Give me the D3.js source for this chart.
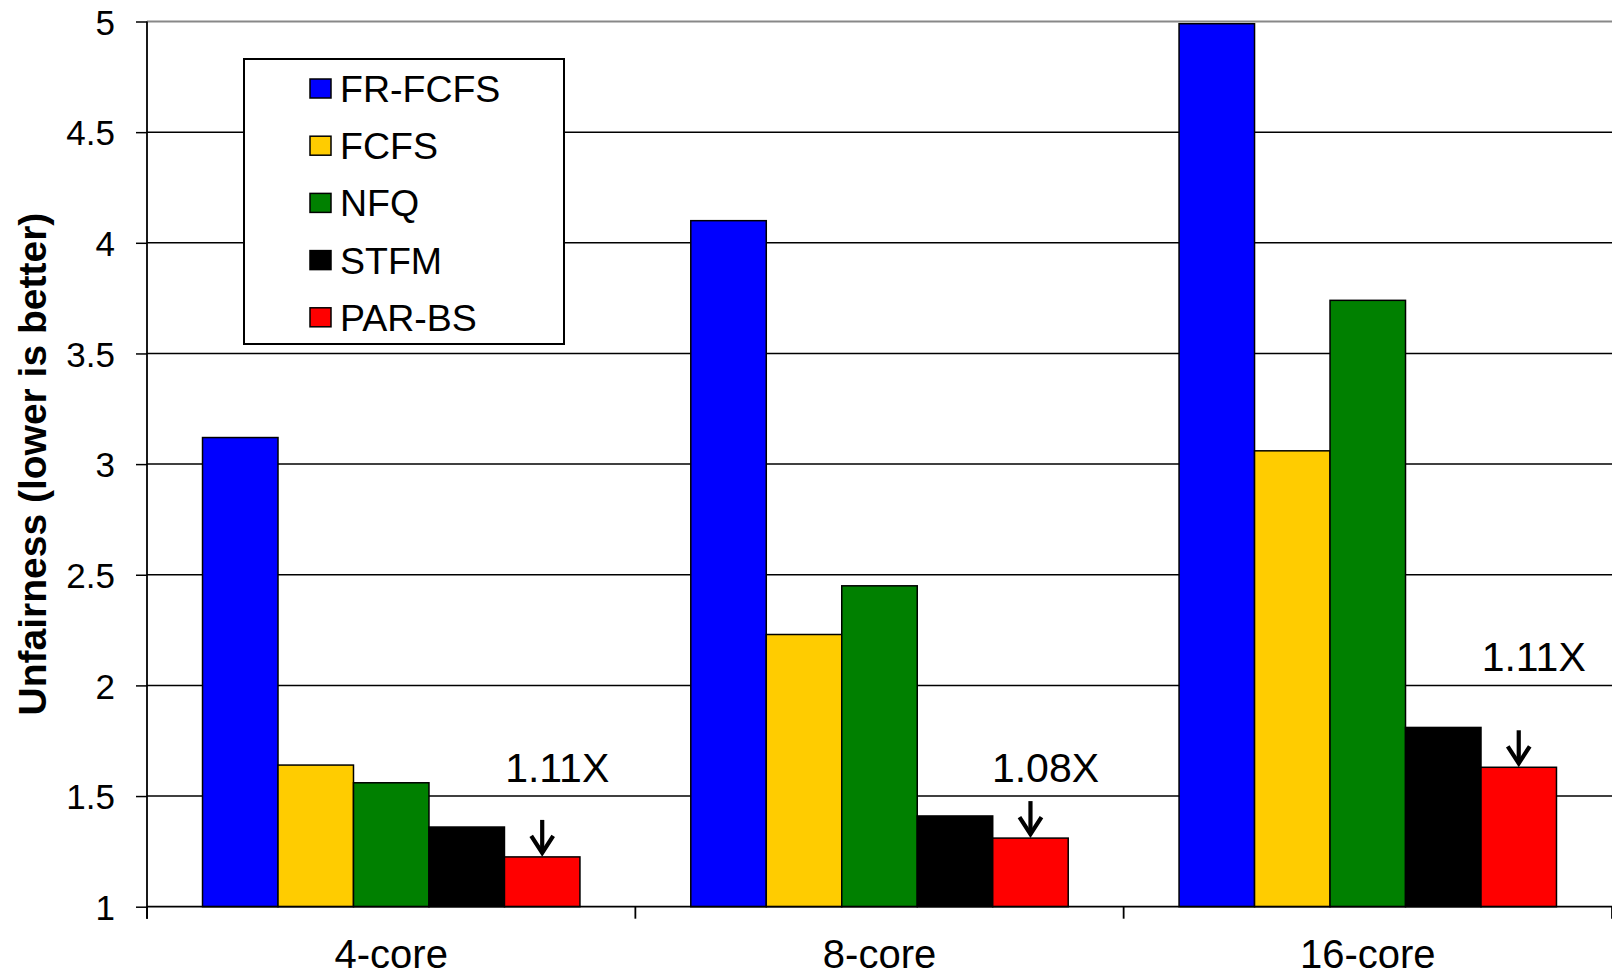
<!DOCTYPE html>
<html>
<head>
<meta charset="utf-8">
<script src="https://cdn.jsdelivr.net/npm/d3@7"></script>
<style>
  html, body { margin: 0; padding: 0; background: #fff; }
  svg { display: block; }
  text { font-family: "Liberation Sans", Arial, Helvetica, sans-serif; fill: #000; }
</style>
</head>
<body>
<svg id="chart" width="1612" height="977"></svg>
<script>
// Core counts on the x axis
const categories = ["4-core", "8-core", "16-core"];
// Memory schedulers compared
const series = ["FR-FCFS", "FCFS", "NFQ", "STFM", "PAR-BS"];

// Unfairness per scheduler, one value per core count
const frfcfs = [3.12, 4.10, 4.99];
const fcfs   = [1.64, 2.23, 3.06];
const nfq    = [1.56, 2.45, 3.74];
const stfm   = [1.36, 1.41, 1.81];
const parbs  = [1.225, 1.31, 1.63];

// Y axis tick values
const yTicks = [1, 1.5, 2, 2.5, 3, 3.5, 4, 4.5, 5];

const colors = ["#0000ff", "#ffcc00", "#008000", "#000000", "#ff0000"];
const valuesBySeries = [frfcfs, fcfs, nfq, stfm, parbs];

const rows = categories.map((c, i) => ({
  category: c,
  values: series.map((s, j) => ({ series: s, value: valuesBySeries[j][i], color: colors[j] }))
}));

const svg = d3.select("#chart");
const plotLeft = 147, plotRight = 1612, plotTop = 21.5, plotBottom = 906.7;

const y = d3.scaleLinear().domain([1, 5]).range([plotBottom, plotTop]);
const x0 = d3.scaleBand().domain(categories).range([plotLeft, plotRight])
  .paddingInner(0.227).paddingOuter(0.1137);
const x1 = d3.scaleBand().domain(series).range([0, x0.bandwidth()]);

// Horizontal gridlines
svg.append("g").selectAll("line")
  .data(yTicks.filter(d => d > 1))
  .join("line")
  .attr("x1", plotLeft).attr("x2", plotRight)
  .attr("y1", d => y(d)).attr("y2", d => y(d))
  .attr("stroke", d => d === 5 ? "#888" : "#000")
  .attr("stroke-width", d => d === 5 ? 2 : 1.5);

// Bars
svg.append("g").selectAll("g")
  .data(rows)
  .join("g")
  .attr("transform", d => `translate(${x0(d.category)},0)`)
  .selectAll("rect")
  .data(d => d.values)
  .join("rect")
  .attr("x", d => x1(d.series))
  .attr("width", x1.bandwidth())
  .attr("y", d => y(d.value))
  .attr("height", d => y(1) - y(d.value))
  .attr("fill", d => d.color)
  .attr("stroke", "#000")
  .attr("stroke-width", 1.5);

// Y axis
const yAxis = svg.append("g")
  .attr("transform", `translate(${plotLeft},0)`)
  .call(d3.axisLeft(y).tickValues(yTicks).tickFormat(d => d).tickSize(11).tickPadding(21));
yAxis.select(".domain").attr("stroke", "#000").attr("stroke-width", 1.8)
  .attr("d", `M0,${plotTop}V${plotBottom + 12}`);
yAxis.selectAll(".tick line").attr("stroke", "#000").attr("stroke-width", 1.5);
yAxis.selectAll(".tick text").attr("font-size", 35).attr("fill", "#000")
  .attr("dy", "0.36em");

// X axis baseline
svg.append("line")
  .attr("x1", plotLeft).attr("x2", plotRight)
  .attr("y1", plotBottom).attr("y2", plotBottom)
  .attr("stroke", "#000").attr("stroke-width", 1.8);

// Category separator ticks at band boundaries
const boundaries = categories.map(c => x0(c) - x0.step() * x0.paddingInner() / 2);
svg.append("g").selectAll("line")
  .data(boundaries.concat([plotRight]))
  .join("line")
  .attr("x1", d => d).attr("x2", d => d)
  .attr("y1", plotBottom).attr("y2", plotBottom + 12)
  .attr("stroke", "#000").attr("stroke-width", 1.8);

// Category labels
const xAxis = svg.append("g")
  .attr("transform", `translate(0,${plotBottom})`)
  .call(d3.axisBottom(x0).tickSize(0).tickPadding(0));
xAxis.select(".domain").remove();
xAxis.selectAll(".tick text")
  .attr("font-size", 40).attr("fill", "#000")
  .attr("dy", null).attr("y", 61);

// Y axis title
svg.append("text")
  .attr("transform", `translate(46,${(plotTop + plotBottom) / 2}) rotate(-90)`)
  .attr("text-anchor", "middle")
  .attr("font-size", 39)
  .attr("font-weight", "bold")
  .text("Unfairness (lower is better)");

// Speedup annotations: STFM over PAR-BS
const notes = categories.map((c, i) => ({
  category: c,
  stfm: stfm[i],
  parbs: parbs[i],
  label: (stfm[i] / parbs[i]).toFixed(2) + "X"
}));
const noteG = svg.append("g").selectAll("g").data(notes).join("g");
const cxOf = d => x0(d.category) + x1("PAR-BS") + x1.bandwidth() / 2;

noteG.append("line")
  .attr("x1", cxOf).attr("x2", cxOf)
  .attr("y1", d => y(d.parbs) - 37)
  .attr("y2", d => y(d.parbs) - 4)
  .attr("stroke", "#000").attr("stroke-width", 4.2);
noteG.append("path")
  .attr("d", d => {
    const cx = cxOf(d), tip = y(d.parbs) - 3;
    return `M${cx - 11},${tip - 18}L${cx},${tip - 1}L${cx + 11},${tip - 18}`;
  })
  .attr("fill", "none").attr("stroke", "#000").attr("stroke-width", 4.2)
  .attr("stroke-linejoin", "miter");
// label sits just above the gridline over the STFM bar
noteG.append("text")
  .attr("x", d => cxOf(d) + 15)
  .attr("y", d => y(Math.ceil(d.stfm * 2) / 2) - 14)
  .attr("text-anchor", "middle")
  .attr("font-size", 41)
  .attr("fill", "#111")
  .text(d => d.label);

// Legend
const legend = svg.append("g");
legend.append("rect")
  .attr("x", 244).attr("y", 59).attr("width", 320).attr("height", 285)
  .attr("fill", "#fff").attr("stroke", "#000").attr("stroke-width", 2);
const items = legend.selectAll("g.item")
  .data(series.map((s, i) => ({ name: s, color: colors[i] })))
  .join("g").attr("class", "item")
  .attr("transform", (d, i) => `translate(0,${102 + i * 57.2})`);
items.append("rect")
  .attr("x", 310).attr("y", -23).attr("width", 21).attr("height", 19)
  .attr("fill", d => d.color).attr("stroke", "#000").attr("stroke-width", 1.5);
items.append("text")
  .attr("x", 340).attr("y", 0)
  .attr("font-size", 37.5)
  .text(d => d.name);
</script>
</body>
</html>
